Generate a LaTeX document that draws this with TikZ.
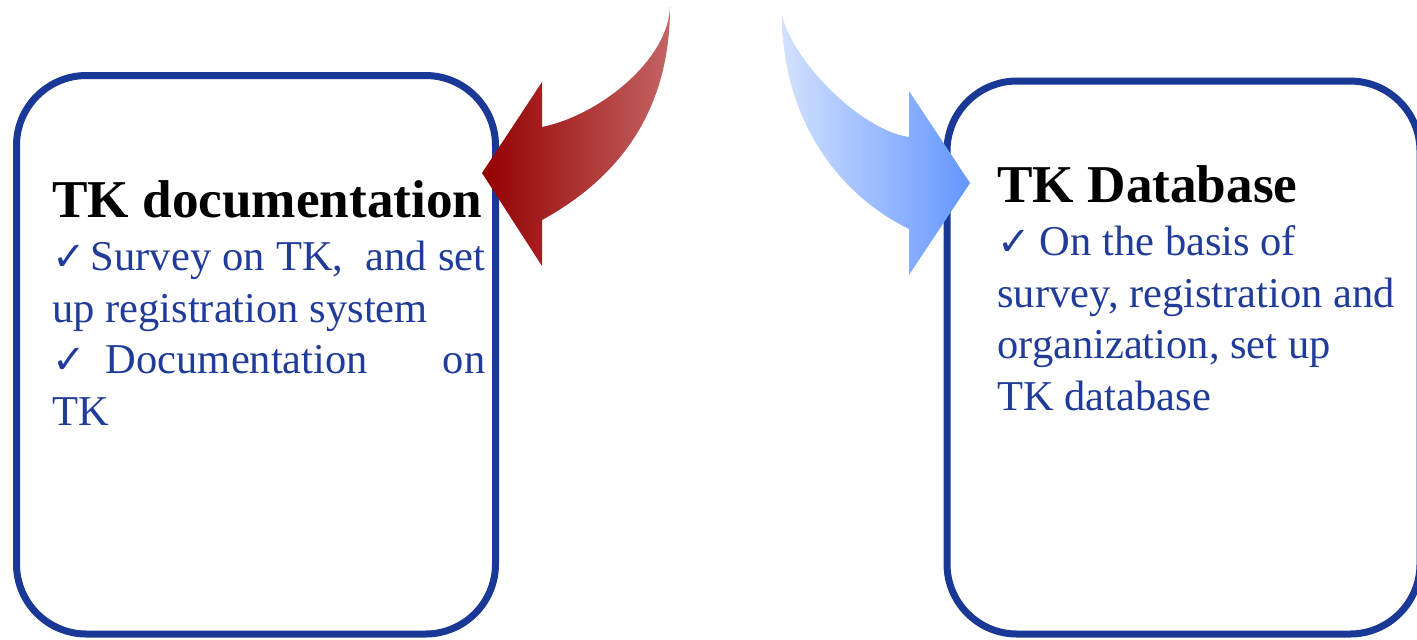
\documentclass[tikz,border=0pt]{standalone}
\usepackage{fontspec}
\setmainfont{Liberation Serif}
\newfontfamily\checkfont{DejaVu Sans}
\definecolor{panelblue}{RGB}{26,56,150}
\definecolor{textblue}{RGB}{32,60,152}
\definecolor{reddark}{RGB}{148,0,0}
\definecolor{redlight}{RGB}{196,100,100}
\definecolor{bluelight}{RGB}{210,225,255}
\definecolor{bluedark}{RGB}{100,150,255}
\newcommand{\tickmark}{{\checkfont\bfseries\fontsize{20}{20}\selectfont ✓}}
\begin{document}
\begin{tikzpicture}[x=0.5pt,y=-0.5pt,
  panel/.style={rectangle, draw=panelblue, line width=3.5pt, rounded corners=35pt, inner sep=0pt, fill=white},
  heading/.style={anchor=base west, inner sep=0pt, text=black, font=\fontsize{26.6}{30}\selectfont\bfseries},
  bodyline/.style={anchor=base west, inner sep=0pt, text=textblue, font=\fontsize{21.25}{25}\selectfont}]
\useasboundingbox (0,0) rectangle (1417,639);
\clip (0,0) rectangle (1417,639);

% the two rounded panels
\node[panel, minimum width=239.5pt, minimum height=279.25pt] (docbox) at (256,354.75) {};
\node[panel, minimum width=236.5pt, minimum height=276.5pt] (dbbox) at (1183.5,357.5) {};

% left panel text
\node[heading] (docTitle) at (52,217) {TK documentation};
\node[bodyline] (docL1) at (52,270) {\makebox[216.5pt][s]{\tickmark\hspace{2.5pt}Survey on TK,\ \ and set}};
\node[bodyline] (docL2) at (52,322) {up registration system};
\node[bodyline] (docL3) at (52,373) {\makebox[216.5pt][l]{\tickmark\hspace{10pt}Documentation\hfill on}};
\node[bodyline] (docL4) at (52,425) {TK};

% right panel text
\node[heading] (dbTitle) at (997,202) {TK Database};
\node[bodyline] (dbL1) at (997,255) {\tickmark\hspace{4.5pt}On the basis of};
\node[bodyline] (dbL2) at (997,307) {survey, registration and};
\node[bodyline] (dbL3) at (997,358) {organization, set up};
\node[bodyline] (dbL4) at (997,410) {TK database};

% curved block arrows
\shade[left color=reddark, right color=redlight]
  (670,7) .. controls (670,115) and (615,180) .. (542,220)
  -- (542,266) -- (482,173) -- (542,82) -- (542,127)
  .. controls (600,115) and (668,60) .. (670,7) -- cycle;
\shade[left color=bluelight, right color=bluedark]
  (782,15) .. controls (792,60) and (860,130) .. (909,137)
  -- (909,91) -- (970,183) -- (909,275) -- (909,229)
  .. controls (830,190) and (782,110) .. (782,15) -- cycle;
\end{tikzpicture}
\end{document}
